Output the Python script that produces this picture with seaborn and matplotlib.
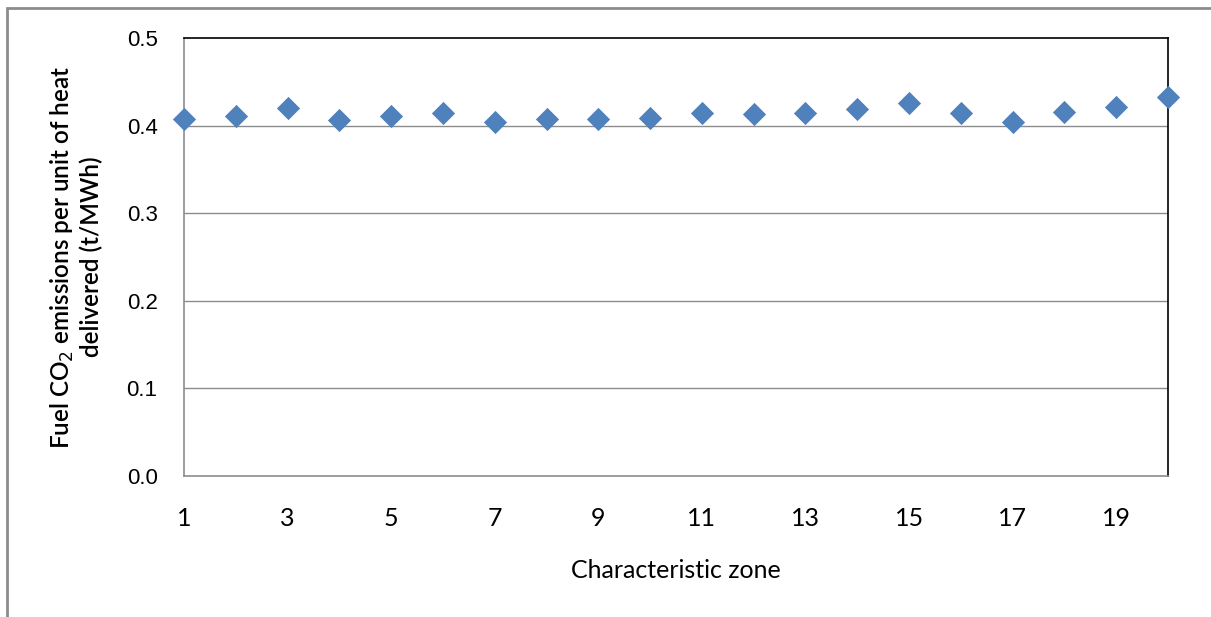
import matplotlib
matplotlib.use("Agg")
import matplotlib.pyplot as plt
import seaborn as sns
import pandas as pd
from matplotlib.patches import Rectangle

zones = list(range(1, 21))
emissions = [0.4075, 0.411, 0.4197, 0.406, 0.411, 0.414, 0.4045, 0.408, 0.407, 0.409,
             0.4147, 0.4128, 0.414, 0.419, 0.426, 0.4147, 0.4037, 0.4155, 0.4216, 0.433]
x_ticks = [1, 3, 5, 7, 9, 11, 13, 15, 17, 19]
y_ticks = [0.0, 0.1, 0.2, 0.3, 0.4, 0.5]

df = pd.DataFrame({"zone": zones, "emission": emissions})

sns.set_style("white")
narrow = ['Lato', 'DejaVu Sans']

fig = plt.figure(figsize=(12.11, 6.17), dpi=100)
ax = fig.add_axes([184/1211, 1-476/617, (1168-184)/1211, (476-38)/617])

sns.scatterplot(data=df, x="zone", y="emission", marker="D", s=140, color="#4F81BD",
                edgecolor="#4F81BD", linewidth=0, ax=ax, zorder=5, clip_on=False)

ax.set_xlim(1, 20)
ax.set_ylim(0, 0.5)
ax.set_xticks(x_ticks)
ax.set_xticklabels([str(t) for t in x_ticks], family=narrow, fontsize=18, color="black")
ax.set_yticks(y_ticks)
ax.set_yticklabels([f"{t:.1f}" for t in y_ticks], family=['Liberation Sans', 'DejaVu Sans'],
                   fontsize=16, color="black")
ax.tick_params(axis='x', length=0, pad=22)
ax.tick_params(axis='y', length=0, pad=19)
for v in y_ticks[1:-1]:
    ax.axhline(v, color="#8c8c8c", lw=1, zorder=1)

ax.spines['left'].set_color("#8c8c8c")
ax.spines['bottom'].set_color("#8c8c8c")
ax.spines['top'].set_color("black")
ax.spines['right'].set_color("black")
for s in ax.spines.values():
    s.set_linewidth(1.2)

ax.set_xlabel("Characteristic zone", family=narrow, fontsize=18, color="black")
ax.xaxis.set_label_coords(0.5, (476-571)/438)
ax.xaxis.label.set_va("center")
ax.set_ylabel("Fuel CO$_2$ emissions per unit of heat\ndelivered (t/MWh)",
              family=narrow, fontsize=17.5, fontweight="semibold", linespacing=1.2,
              color="black", ha="center", va="center")
ax.yaxis.set_label_coords((76-184)/984, 0.5)

fig.patches.append(Rectangle((7/1211, -0.1), 1.2, 1-7.5/617+0.1, transform=fig.transFigure,
                             fill=False, edgecolor="#8c8c8c", lw=2))

fig.savefig("out.png", dpi=100)
